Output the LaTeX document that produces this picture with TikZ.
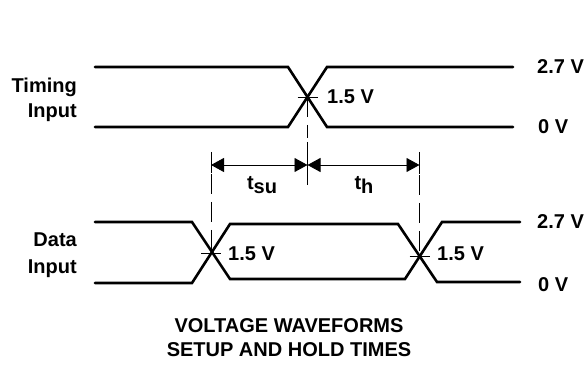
\documentclass[tikz,border=0pt]{standalone}
\usepackage{fontspec}
\setmainfont{Liberation Sans}
\usetikzlibrary{
	arrows.meta,
	calc,
	positioning
}
\tikzset{
	wave/.style={line width=2.6pt, line cap=round},
	guide/.style={line width=0.9pt},
	dashguide/.style={line width=0.9pt, dash pattern=on 20pt off 8pt},
	dimline/.style={line width=0.9pt, {Triangle[length=13pt,width=14pt]}-{Triangle[length=13pt,width=14pt]}},
	lbl/.style={font=\fontsize{20}{24}\selectfont\bfseries, inner sep=0pt}
}

\begin{document}
\begin{tikzpicture}[x=1pt, y=-1pt]
		\useasboundingbox (0,0) rectangle (587,366);
		% timing input
		\draw[wave] (95,67) -- (288,67) -- (327,127) -- (513,127);
		\draw[wave] (95,127) -- (288,127) -- (327,67) -- (513,67);
		\coordinate (Xt) at (307.5,97);
		\node[lbl, anchor=base east] (tim1) at (77,93) {Timing};
		\node[lbl, anchor=base east] (tim2) at (77,118) {Input};
		\node[lbl, anchor=west] (thi) at (537,67) {2.7 V};
		\node[lbl, anchor=west] (tlo) at (538,127) {0 V};
		\node[lbl, anchor=west] (tmid) at (327,97) {1.5 V};
		
		% data input
		\draw[wave] (95,222) -- (192,222) -- (230,279) -- (405,279) -- (442,222) -- (520,222);
		\draw[wave] (95,283) -- (192,283) -- (230,224) -- (398,224) -- (437,282) -- (520,282);
		\coordinate (Xd1) at (211,253);
		\coordinate (Xd2) at (419.5,256);
		\node[lbl, anchor=base east] (dat1) at (77,247) {Data};
		\node[lbl, anchor=base east] (dat2) at (77,274) {Input};
		\node[lbl, anchor=west] (dhi) at (537,222) {2.7 V};
		\node[lbl, anchor=west] (dlo) at (538,285) {0 V};
		\node[lbl, anchor=west] (dmid1) at (228,254) {1.5 V};
		\node[lbl, anchor=west] (dmid2) at (437,254) {1.5 V};
		
		% ticks at the crossings
		\foreach \c in {Xt, Xd1, Xd2}
			\draw[guide] ($(\c)+(-10,0)$) -- ($(\c)+(10,0)$);
		
		% setup and hold
		\coordinate (su) at (211,165);
		\coordinate (mid) at (307.5,165);
		\coordinate (ho) at (419.5,165);
		\draw[guide] (211,152) -- (211,173);
		\draw[dashguide] (211,174) -- (Xd1);
		\draw[guide] (419.5,152) -- (419.5,174);
		\draw[dashguide] (419.5,175) -- (Xd2);
		\draw[dashguide] (Xt) -- (307.5,138);
		\draw[guide] (307.5,142) -- (307.5,185);
		\draw[dimline] (su) -- (mid);
		\draw[dimline] (mid) -- (ho);
		\node[lbl, anchor=base] (tsu) at (262,190) {t\raisebox{-4pt}{su}};
		\node[lbl, anchor=base] (th) at (364,190) {t\raisebox{-4pt}{h}};
		
		\node[lbl, anchor=base] (ttl1) at (289,333) {VOLTAGE WAVEFORMS};
		\node[lbl, anchor=base] (ttl2) at (289,357) {SETUP AND HOLD TIMES};
	\end{tikzpicture}
\end{document}
